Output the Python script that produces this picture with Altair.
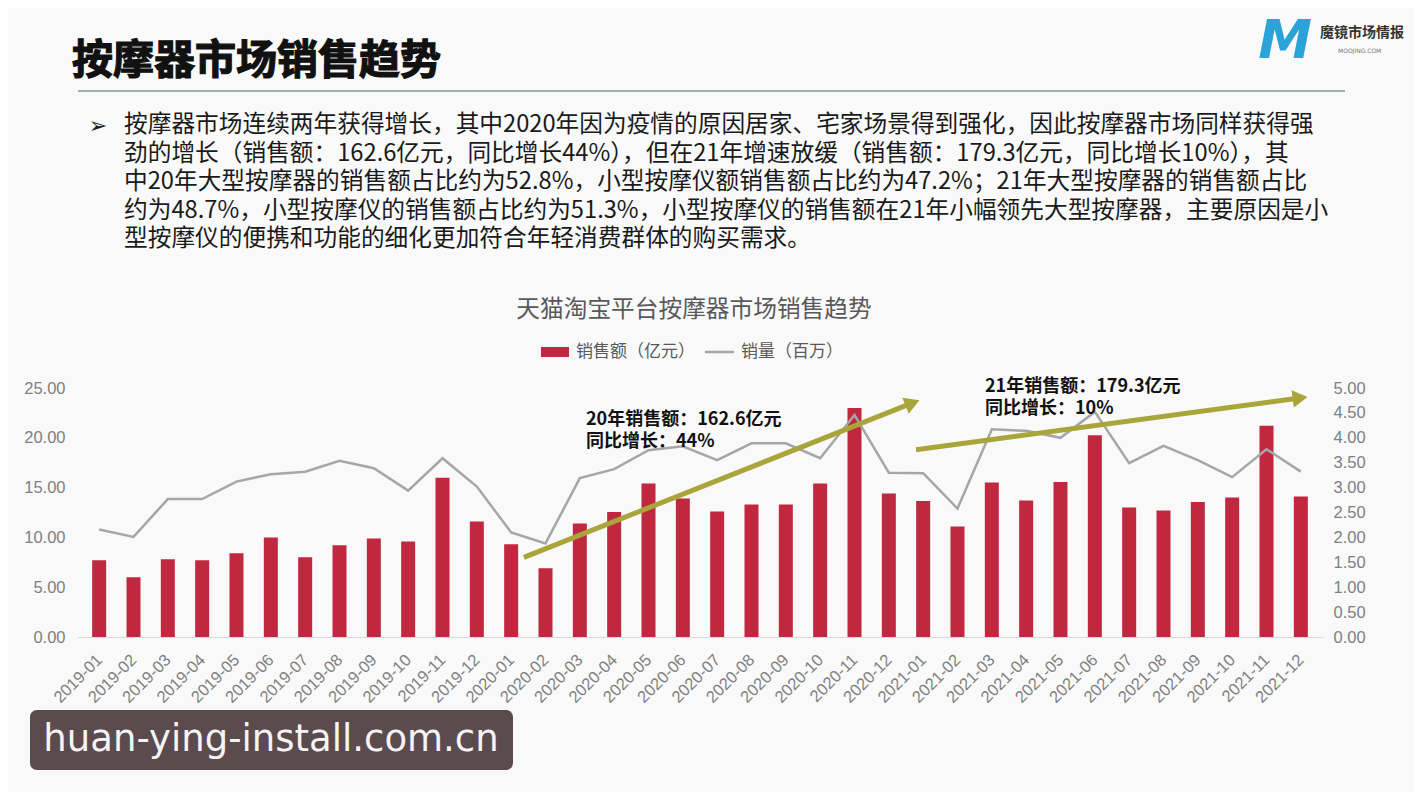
import json
import altair as alt
import pandas as pd

# ---------------- data ----------------
months = ["2019-01", "2019-02", "2019-03", "2019-04", "2019-05", "2019-06",
          "2019-07", "2019-08", "2019-09", "2019-10", "2019-11", "2019-12",
          "2020-01", "2020-02", "2020-03", "2020-04", "2020-05", "2020-06",
          "2020-07", "2020-08", "2020-09", "2020-10", "2020-11", "2020-12",
          "2021-01", "2021-02", "2021-03", "2021-04", "2021-05", "2021-06",
          "2021-07", "2021-08", "2021-09", "2021-10", "2021-11", "2021-12"]
sales = [7.7, 6.0, 7.8, 7.7, 8.4, 10.0, 8.0, 9.2, 9.9, 9.6, 16.0, 11.6,
         9.3, 6.9, 11.4, 12.55, 15.4, 13.9, 12.6, 13.3, 13.3, 15.4, 23.0, 14.4,
         13.65, 11.1, 15.5, 13.7, 15.55, 20.25, 13.0, 12.7, 13.55, 14.0, 21.2, 14.1]
volume = [2.16, 2.01, 2.77, 2.77, 3.12, 3.27, 3.32, 3.54, 3.39, 2.94, 3.59, 3.02,
          2.10, 1.88, 3.19, 3.37, 3.75, 3.83, 3.55, 3.89, 3.89, 3.59, 4.46, 3.30,
          3.29, 2.58, 4.17, 4.14, 4.00, 4.52, 3.49, 3.84, 3.55, 3.21, 3.77, 3.32]
left_ticks = [0, 5, 10, 15, 20, 25]
right_ticks = [0, 0.5, 1, 1.5, 2, 2.5, 3, 3.5, 4, 4.5, 5]

# trend arrows (x in month index, y in sales units)
arrow1_x = [12.37, 23.69]
arrow1_y = [8.0, 23.5]
arrow2_x = [23.79, 34.98]
arrow2_y = [18.8, 24.0]

title_text = "按摩器市场销售趋势"
chart_title = "天猫淘宝平台按摩器市场销售趋势"
legend_sales = "销售额（亿元）"
legend_volume = "销量（百万）"
para_lines = [
    "按摩器市场连续两年获得增长，其中2020年因为疫情的原因居家、宅家场景得到强化，因此按摩器市场同样获得强",
    "劲的增长（销售额：162.6亿元，同比增长44%），但在21年增速放缓（销售额：179.3亿元，同比增长10%），其",
    "中20年大型按摩器的销售额占比约为52.8%，小型按摩仪额销售额占比约为47.2%；21年大型按摩器的销售额占比",
    "约为48.7%，小型按摩仪的销售额占比约为51.3%，小型按摩仪的销售额在21年小幅领先大型按摩器，主要原因是小",
    "型按摩仪的便携和功能的细化更加符合年轻消费群体的购买需求。",
]
ann1 = ["20年销售额：162.6亿元", "同比增长：44%"]
ann2 = ["21年销售额：179.3亿元", "同比增长：10%"]
watermark = "huan-ying-install.com.cn"

CJK = "Noto Sans CJK SC"
BAR = "#c0283f"
GRAY_LINE = "#a6a6a6"
OLIVE = "#aaa53b"
AXIS_GRAY = "#808080"

df = pd.DataFrame({"idx": list(range(len(months))), "month": months,
                   "sales": sales, "volume": volume})

x_scale = alt.Scale(domain=[-0.5, len(months) - 0.5], nice=False, zero=False)
x_axis = alt.Axis(values=list(range(len(months))),
                  labelExpr=f"{json.dumps(months)}[datum.value]",
                  labelAngle=315, labelAlign="right", labelBaseline="middle",
                  labelFont="Liberation Sans", labelFontSize=16.5, labelColor=AXIS_GRAY,
                  labelPadding=20, labelOverlap=False, labelFlush=False,
                  ticks=False, grid=False, domainColor="#d9d9d9", title=None)
x_enc = alt.X("idx:Q", scale=x_scale, axis=x_axis)
left_scale = alt.Scale(domain=[0, 25], nice=False)

bars = alt.Chart(df).mark_bar(size=14, color=BAR).encode(
    x=x_enc,
    y=alt.Y("sales:Q", scale=left_scale,
            axis=alt.Axis(orient="left", values=left_ticks, format=".2f",
                          labelFont="Liberation Sans",
                          labelFontSize=16.5, labelColor=AXIS_GRAY, labelPadding=12,
                          domain=False, ticks=False, grid=False, title=None)),
)

line = alt.Chart(df).mark_line(color=GRAY_LINE, strokeWidth=2.5).encode(
    x=x_enc,
    y=alt.Y("volume:Q", scale=alt.Scale(domain=[0, 5], nice=False),
            axis=alt.Axis(orient="right", values=right_ticks, format=".2f",
                          labelFont="Liberation Sans", labelFontSize=16.5,
                          labelColor=AXIS_GRAY, labelPadding=10,
                          domain=False, ticks=False, grid=False, title=None)),
)


def arrow(xs, ys, angle):
    d = pd.DataFrame({"idx": xs, "sales": ys})
    ln = alt.Chart(d).mark_line(color=OLIVE, strokeWidth=5, strokeCap="butt").encode(
        x=x_enc, y=alt.Y("sales:Q", scale=left_scale, axis=None))
    head = alt.Chart(d.iloc[[-1]]).mark_point(
        shape="triangle-right", size=300, filled=True, opacity=1, color=OLIVE, angle=angle
    ).encode(x=x_enc, y=alt.Y("sales:Q", scale=left_scale, axis=None))
    return [ln, head]


def txt(s, x, y, **kw):
    return alt.Chart(pd.DataFrame({"t": [s]})).mark_text(**kw).encode(
        text="t:N", x=alt.value(x), y=alt.value(y))


# page origin of plot area = (77, 388)
texts = [
    txt(title_text, -5, -326, font=CJK, fontSize=41, fontWeight="bold", color="#111111",
        stroke="#111111", strokeWidth=1.2, align="left", baseline="middle"),
    txt("M", 1208, -346, font="DejaVu Sans", fontSize=54, fontWeight="bold", color="#29a3d8",
        align="center", baseline="middle", fontStyle="italic"),
    txt("魔镜市场情报", 1243, -355, font=CJK, fontSize=14, fontWeight="bold", color="#333333",
        align="left", baseline="middle"),
    txt("MOOJING.COM", 1261, -337, font="DejaVu Sans", fontSize=6, color="#777777",
        align="left", baseline="middle"),
    txt("➢", 21, -262, font="DejaVu Sans", fontSize=22, color="#222222",
        align="center", baseline="middle"),
    txt("\n".join(para_lines), 47, -275, font=CJK, fontSize=23.7, lineHeight=28.6,
        lineBreak="\n", color="#1a1a1a", align="left", baseline="top"),
    txt(chart_title, 617, -78, font=CJK, fontSize=23.7, color="#595959",
        align="center", baseline="middle"),
    txt(legend_sales, 499, -36, font=CJK, fontSize=17, color="#595959",
        align="left", baseline="middle"),
    txt(legend_volume, 664, -36, font=CJK, fontSize=17, color="#595959",
        align="left", baseline="middle"),
    txt("\n".join(ann1), 509, 23, font=CJK, fontSize=18, fontWeight="bold", lineHeight=22,
        lineBreak="\n", color="#111111", align="left", baseline="top"),
    txt("\n".join(ann2), 908, -10, font=CJK, fontSize=18, fontWeight="bold", lineHeight=22,
        lineBreak="\n", color="#111111", align="left", baseline="top"),
]

one = pd.DataFrame({"k": [0]})
underline = alt.Chart(one).mark_rule(color="#a3abab", strokeWidth=2).encode(
    x=alt.value(1), x2=alt.value(1268), y=alt.value(-297))
legend_rect = alt.Chart(one).mark_rect(color=BAR).encode(
    x=alt.value(464), x2=alt.value(492), y=alt.value(-41), y2=alt.value(-31))
legend_line = alt.Chart(one).mark_rule(color=GRAY_LINE, strokeWidth=2.5).encode(
    x=alt.value(628), x2=alt.value(657), y=alt.value(-36))
wm_box = alt.Chart(one).mark_rect(color="#5b4a4e", cornerRadius=7).encode(
    x=alt.value(-47), x2=alt.value(436), y=alt.value(322), y2=alt.value(382))
wm_text = txt(watermark, 194, 352, font="DejaVu Sans", fontSize=37, color="#f4f4f4",
              align="center", baseline="middle")

chart = alt.layer(
    bars, line,
    *arrow(arrow1_x, arrow1_y, 338.5),
    *arrow(arrow2_x, arrow2_y, 352.4),
    underline, legend_rect, legend_line, wm_box, wm_text,
    *texts,
).resolve_scale(y="independent").properties(
    width=1246, height=249,
    padding={"left": 69, "top": 380, "right": 91, "bottom": 155},
    autosize=alt.AutoSizeParams(type="none"),
    background="#f9f9f9",
).configure_view(strokeWidth=0)

chart.save("out.html", embed_options={"renderer": "svg", "actions": False})
